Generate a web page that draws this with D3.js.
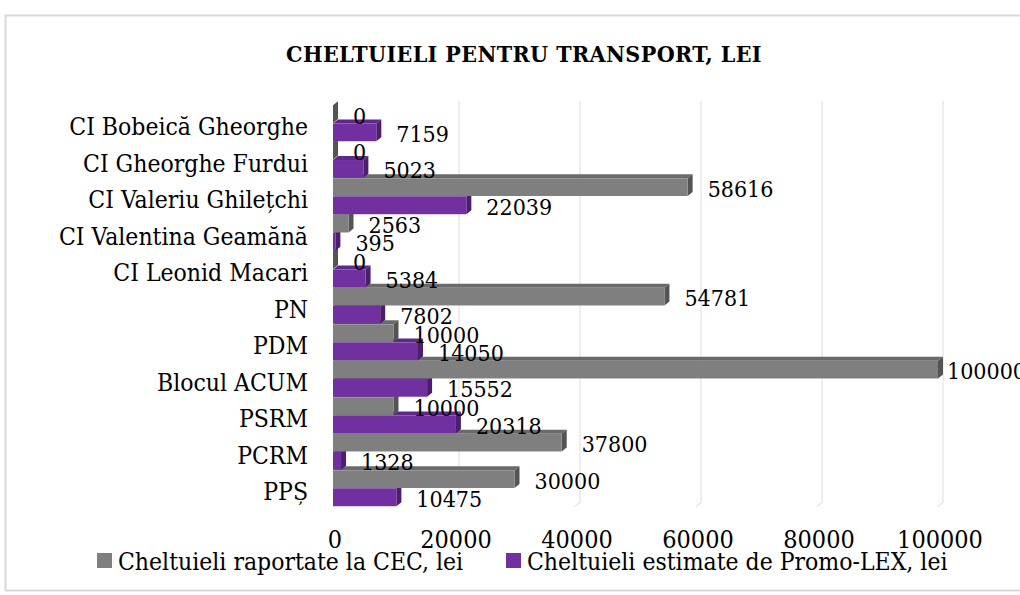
<!DOCTYPE html>
<html>
<head>
<meta charset="utf-8">
<script src="https://cdn.jsdelivr.net/npm/d3@7"></script>
<style>
  body { margin: 0; background: #fff; }
  svg text { font-family: "DejaVu Serif Condensed", "DejaVu Serif", serif; font-stretch: condensed; fill: #000; }
</style>
</head>
<body>
<svg width="1020" height="595"></svg>
<script>
// chart data, top to bottom as in the picture
var categories = ["CI Bobeică Gheorghe", "CI Gheorghe Furdui", "CI Valeriu Ghilețchi",
  "CI Valentina Geamănă", "CI Leonid Macari", "PN", "PDM", "Blocul ACUM", "PSRM", "PCRM", "PPȘ"];
var cecValues = [0, 0, 58616, 2563, 0, 54781, 10000, 100000, 10000, 37800, 30000];
var promoValues = [7159, 5023, 22039, 395, 5384, 7802, 14050, 15552, 20318, 1328, 10475];
var seriesNames = ["Cheltuieli raportate la CEC, lei", "Cheltuieli estimate de Promo-LEX, lei"];
var tickValues = [0, 20000, 40000, 60000, 80000, 100000];
var title = "CHELTUIELI PENTRU TRANSPORT, LEI";

var colors = [
  {front: "#7f7f7f", top: "#6a6a6a", side: "#545454"},
  {front: "#7030a0", top: "#5e2888", side: "#4b1f6d"}
];

var svg = d3.select("svg");
var dx = 5, dy = 4; // fake 3d depth

// frame
svg.append("rect")
  .attr("x", 5.5).attr("y", 15.5)
  .attr("width", 1040).attr("height", 575)
  .attr("fill", "#fff")
  .attr("stroke", "#d9d9d9")
  .attr("stroke-width", 2);

svg.append("text")
  .attr("x", 524).attr("y", 62)
  .attr("text-anchor", "middle")
  .style("font-size", "23px")
  .style("font-weight", "bold")
  .style("letter-spacing", "0.4px")
  .text(title);

var x = d3.scaleLinear().domain([0, 100000]).range([333, 938]);
var y = d3.scaleBand().domain(categories).range([105, 506.5]);
var ys = d3.scaleBand().domain([0, 1]).range([0, y.bandwidth()])
  .paddingInner(0.03).paddingOuter(0.015);

var plotTop = y.range()[0] - dy, plotBottom = y.range()[1];

// back wall gridlines with the little floor slant
svg.append("g").selectAll("path")
  .data(tickValues.slice(1))
  .enter()
  .append("path")
  .attr("d", function(v) {
    return "M" + (x(v) + dx) + "," + plotTop +
      "V" + (plotBottom - dy) + "L" + x(v) + "," + plotBottom;
  })
  .attr("fill", "none")
  .attr("stroke", "#e3e3e3")
  .attr("stroke-width", 1.2);

// flat list of bars, drawn bottom up so the upper bars hide lower top faces
var bars = [];
categories.forEach(function(c, i) {
  bars.push({cat: c, s: 0, v: cecValues[i]});
  bars.push({cat: c, s: 1, v: promoValues[i]});
});
bars.reverse();

var g = svg.append("g");
bars.forEach(function(d) {
  var x0 = x(0), x1 = x(d.v);
  var yt = y(d.cat) + ys(d.s), h = ys.bandwidth();
  var col = colors[d.s];
  g.append("path")
    .attr("d", "M" + x0 + "," + yt + "L" + x1 + "," + yt + "L" + (x1 + dx) + "," + (yt - dy) +
      "L" + (x0 + dx) + "," + (yt - dy) + "Z")
    .attr("fill", col.top);
  g.append("path")
    .attr("d", "M" + x1 + "," + yt + "L" + (x1 + dx) + "," + (yt - dy) + "L" + (x1 + dx) + "," + (yt + h - dy) +
      "L" + x1 + "," + (yt + h) + "Z")
    .attr("fill", col.side);
  g.append("rect")
    .attr("x", x0).attr("y", yt)
    .attr("width", x1 - x0).attr("height", h)
    .attr("fill", col.front);
});

// value labels
svg.append("g").selectAll("text")
  .data(bars)
  .enter()
  .append("text")
  .attr("x", function(d) { return Math.min(x(d.v) + 20, x(100000) + 9); })
  .attr("y", function(d) { return y(d.cat) + ys(d.s) + ys.bandwidth() / 2 + 9.5; })
  .style("font-size", "23px")
  .text(function(d) { return d.v; });

// category labels
svg.append("g").selectAll("text")
  .data(categories)
  .enter()
  .append("text")
  .attr("x", 308)
  .attr("y", function(c) { return y(c) + y.bandwidth() / 2 + 12; })
  .attr("text-anchor", "end")
  .style("font-size", "24.5px")
  .text(function(c) { return c; });

// x tick labels
svg.append("g").selectAll("text")
  .data(tickValues)
  .enter()
  .append("text")
  .attr("x", function(v) { return x(v) + 2; })
  .attr("y", 548)
  .attr("text-anchor", "middle")
  .style("font-size", "25px")
  .text(function(v) { return v; });

// legend
var legendX = [97, 506];
var legend = svg.append("g").selectAll("g")
  .data(seriesNames)
  .enter()
  .append("g")
  .attr("transform", function(d, i) { return "translate(" + legendX[i] + ",553)"; });
legend.append("rect")
  .attr("width", 15).attr("height", 15)
  .attr("fill", function(d, i) { return colors[i].front; });
legend.append("text")
  .attr("x", 21).attr("y", 17)
  .style("font-size", "24.5px")
  .text(function(d) { return d; });
</script>
</body>
</html>
